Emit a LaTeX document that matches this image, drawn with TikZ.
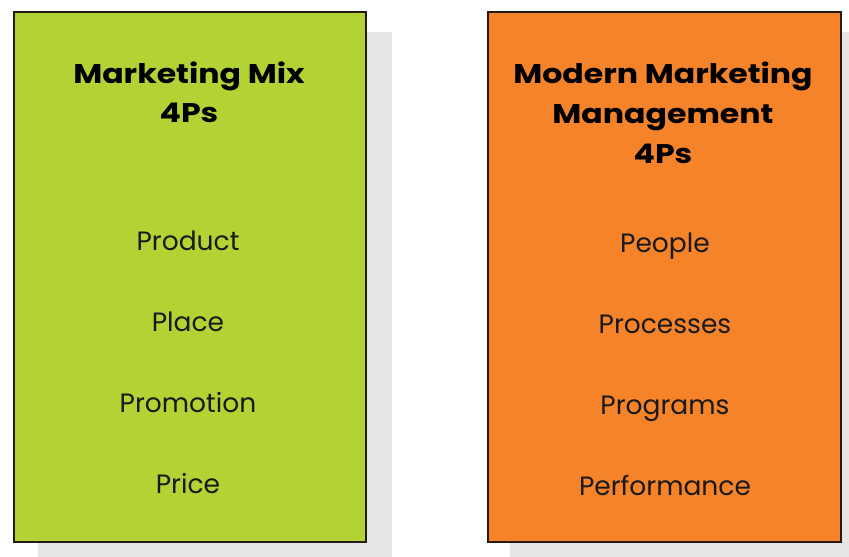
\documentclass[tikz,border=0pt]{standalone}
\usepackage{fontspec}
\setmainfont{Poppins}
\begin{document}
\begin{tikzpicture}[x=1pt,y=-1pt,
  panel/.style={draw=black!80!brown, line width=1.4pt},
  dropshade/.style={fill=shadegray, draw=none},
  heading/.style={font=\fontsize{27}{40}\selectfont\bfseries, align=center, text=black,
    inner sep=0pt, anchor=base, xscale=1.17, transform shape},
  item/.style={font=\fontsize{26.5}{30}\selectfont, text=black!90, inner sep=0pt, anchor=base}]
\definecolor{mixgreen}{HTML}{B3D335}
\definecolor{modorange}{HTML}{F4832A}
\definecolor{shadegray}{HTML}{E5E5E7}
\useasboundingbox[fill=white] (0,0) rectangle (849,557);
% drop shadows
\fill[dropshade] (38,32) rectangle (392,560);
\fill[dropshade] (510,32) rectangle (860,560);
% panels
\draw[panel, fill=mixgreen] (14,12) rectangle (366,542);
\draw[panel, fill=modorange] (488,12) rectangle (841,542);
% left panel text
\node[heading] (mixtitle) at (189,83) {Marketing Mix};
\node[heading] (mixsub) at (189,122) {4Ps};
\node[item] (product) at (188,250) {Product};
\node[item] (place) at (188,331) {Place};
\node[item] (promotion) at (188,412) {Promotion};
\node[item] (price) at (188,493) {Price};
% right panel text
\node[heading] (modtitle) at (663,83) {Modern Marketing};
\node[heading] (modmgmt) at (663,123) {Management};
\node[heading] (modsub) at (663,163) {4Ps};
\node[item] (people) at (665,252) {People};
\node[item] (processes) at (665,333) {Processes};
\node[item] (programs) at (665,414) {Programs};
\node[item] (performance) at (665,495) {Performance};
\end{tikzpicture}
\end{document}
